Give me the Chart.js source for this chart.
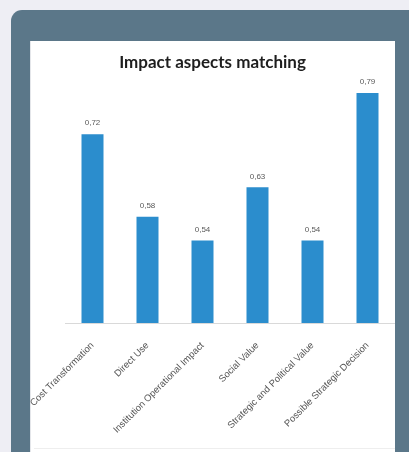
<!DOCTYPE html>
<html>
<head>
<meta charset="utf-8">
<script src="https://cdn.jsdelivr.net/npm/chart.js@4/dist/chart.umd.min.js"></script>
<style>
  html, body { margin: 0; padding: 0; }
  body { width: 409px; height: 452px; overflow: hidden; background: #eeeef4; position: relative; }
  #frame { position: absolute; left: 11px; top: 10px; width: 420px; height: 470px; background: #5b7789; border-top-left-radius: 11px; }
  #panel { position: absolute; left: 30px; top: 41px; width: 365px; height: 420px; background: #fff; border-left: 1px solid #e4e6ea; box-sizing: border-box; }
  #panel .rule { position: absolute; left: 3px; right: 0; top: 407px; height: 1px; background: #eeeeee; }
  #wrap { position: absolute; left: 30px; top: 41px; width: 365px; height: 411px; }
</style>
</head>
<body>
<div id="frame"></div>
<div id="panel"><div class="rule"></div></div>
<div id="wrap"><canvas id="impactChart"></canvas></div>
<script>
// Impact aspects chart

const chartTitle = 'Impact aspects matching';
const categories = [
  'Cost Transformation',
  'Direct Use',
  'Institution Operational Impact',
  'Social Value',
  'Strategic and Political Value',
  'Possible Strategic Decision'
];
const matchValues = [0.72, 0.58, 0.54, 0.63, 0.54, 0.79];
const yMin = 0.4;
const yMax = 0.8;

// title centred on the whole panel, not just the plot area
const panelTitle = {
  id: 'panelTitle',
  afterDraw(chart) {
    const ctx = chart.ctx;
    ctx.save();
    ctx.font = 'bold 17px Lato, sans-serif';
    ctx.fillStyle = '#1e1e1e';
    ctx.textAlign = 'center';
    ctx.textBaseline = 'middle';
    ctx.fillText(chartTitle, 182.5, 22);
    ctx.restore();
  }
};

// value labels above the bars, with a decimal comma
const barValueLabels = {
  id: 'barValueLabels',
  afterDatasetsDraw(chart) {
    const ctx = chart.ctx;
    const meta = chart.getDatasetMeta(0);
    ctx.save();
    ctx.font = '8px "Liberation Sans", Arial, sans-serif';
    ctx.fillStyle = '#595959';
    ctx.textAlign = 'center';
    ctx.textBaseline = 'middle';
    meta.data.forEach((bar, i) => {
      const txt = matchValues[i].toFixed(2).replace('.', ',');
      ctx.fillText(txt, bar.x, bar.y - 11);
    });
    ctx.restore();
  }
};

const ctx = document.getElementById('impactChart').getContext('2d');
new Chart(ctx, {
  type: 'bar',
  data: {
    labels: categories,
    datasets: [{
      data: matchValues,
      backgroundColor: '#2b8dcd',
      categoryPercentage: 1,
      barPercentage: 0.4
    }]
  },
  options: {
    responsive: true,
    maintainAspectRatio: false,
    animation: false,
    layout: { padding: { left: 35, right: 0, top: 46, bottom: 0 } },
    plugins: {
      legend: { display: false },
      tooltip: { enabled: false },
      title: { display: false }
    },
    scales: {
      x: {
        grid: { display: false },
        border: { display: true, color: '#d9d9d9', width: 1 },
        ticks: {
          color: '#555',
          font: { family: 'Liberation Sans', size: 9.5 },
          minRotation: 45,
          maxRotation: 45,
          autoSkip: false,
          padding: 9
        },
        afterFit(scale) {
          scale.height = 129;
          scale.paddingLeft = 0;
          scale.paddingRight = 0;
        }
      },
      y: {
        display: false,
        min: yMin,
        max: yMax
      }
    }
  },
  plugins: [barValueLabels, panelTitle]
});
</script>
</body>
</html>
